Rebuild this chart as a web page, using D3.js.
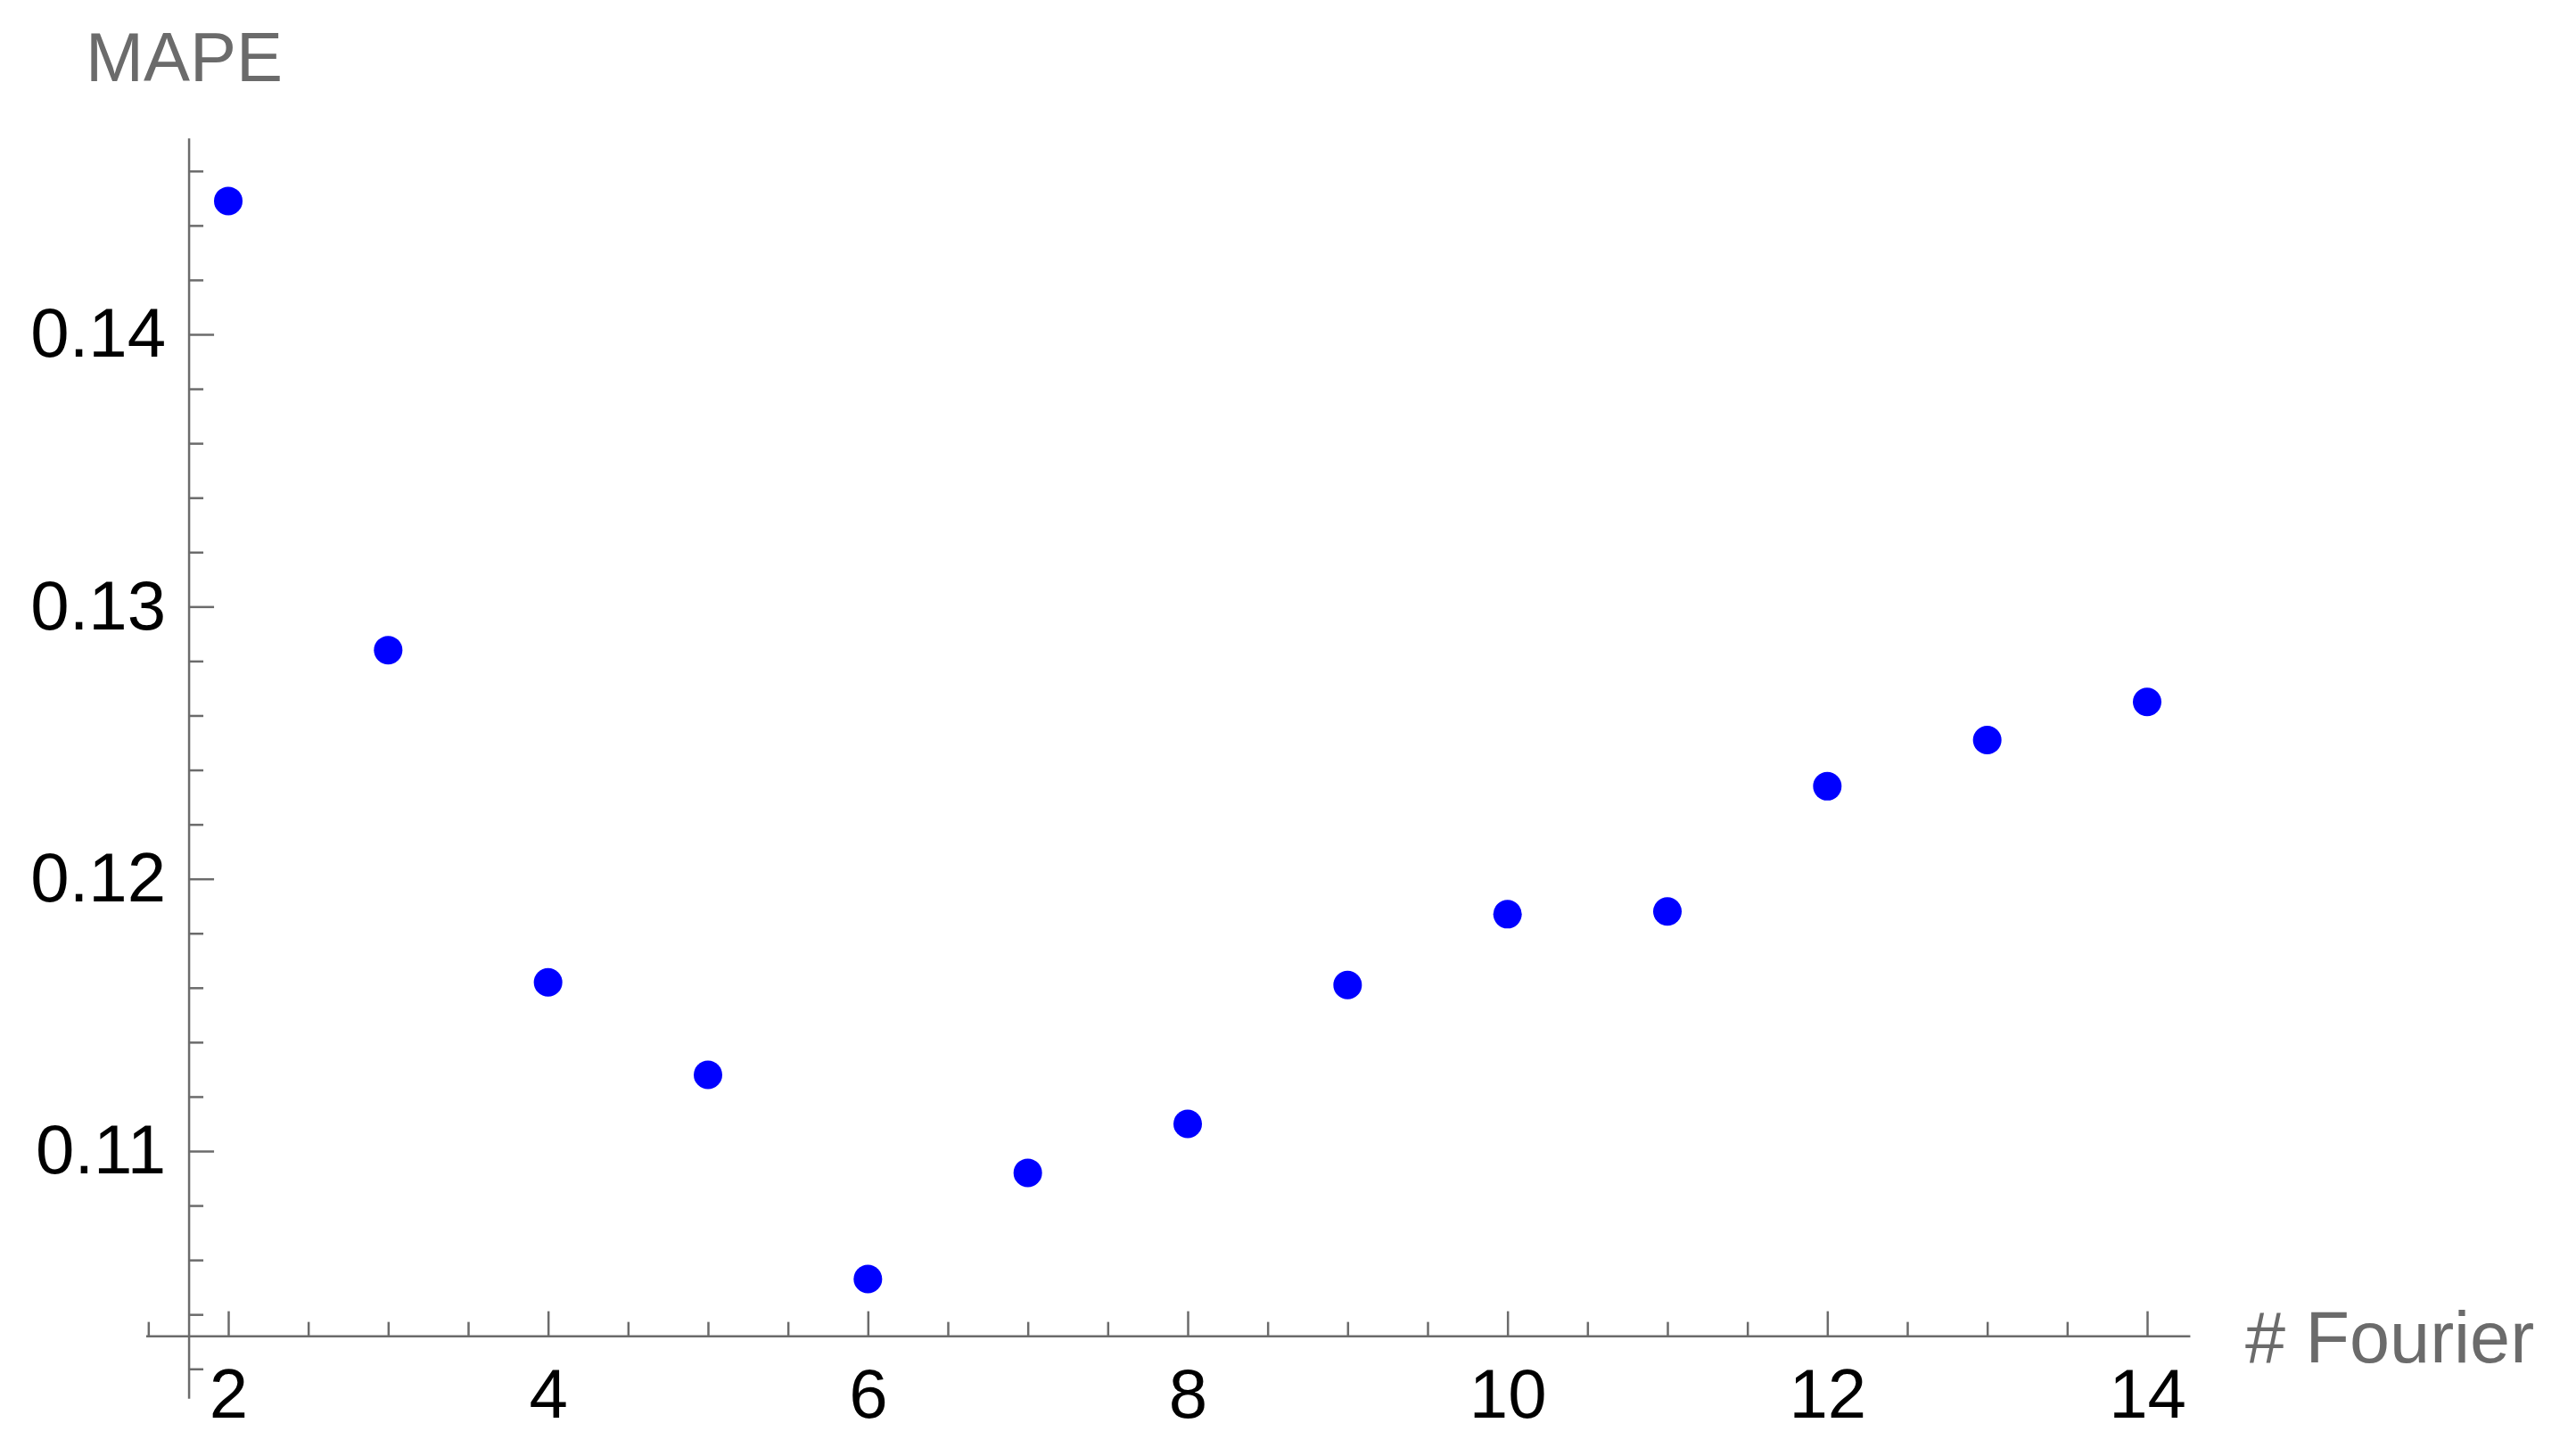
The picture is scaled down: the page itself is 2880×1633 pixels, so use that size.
<!DOCTYPE html>
<html>
<head>
<meta charset="utf-8">
<script src="https://cdn.jsdelivr.net/npm/d3@7"></script>
<style>
  body { margin: 0; background: #fff; }
  text { font-family: "Liberation Sans", Arial, sans-serif; }
</style>
</head>
<body>
<div id="chart"></div>
<script>
// data
const fourier = [2, 3, 4, 5, 6, 7, 8, 9, 10, 11, 12, 13, 14];
const mape = [0.1449, 0.1284, 0.1162, 0.1128, 0.1053, 0.1092, 0.1110,
              0.1161, 0.1187, 0.1188, 0.1234, 0.1251, 0.1265];

const xMajor = [2, 4, 6, 8, 10, 12, 14];
const xMinor = d3.range(1.5, 14, 0.5).filter(v => v % 2 !== 0);
const yMajor = [0.11, 0.12, 0.13, 0.14];
const yMinor = d3.range(51, 74).map(i => i * 0.002).filter(v => Math.abs(v * 100 - Math.round(v * 100)) > 1e-6);

const xLabel = "# Fourier";
const yLabel = "MAPE";

const data = fourier.map((f, i) => ({f: f, v: mape[i]}));

// initialization
const width = 2880, height = 1633;
const axisColor = "#6b6b6b";

const svg = d3.select("#chart")
    .append("svg")
    .attr("width", width)
    .attr("height", height);

const xScale = d3.scaleLinear().domain([2, 14]).range([256, 2408]);
const yScale = d3.scaleLinear().domain([0.14, 0.11]).range([375, 1291]);

// where the axes cross (Mathematica style)
const xCross = 1.755, yCross = 0.1032;
const xExtent = [1.487, 14.27];
const yExtent = [0.1009, 0.1472];

// x axis
const xAxisG = svg.append("g")
    .attr("transform", `translate(0, ${yScale(yCross)})`);

xAxisG.append("line")
    .attr("x1", xScale(xExtent[0]))
    .attr("x2", xScale(xExtent[1]))
    .attr("stroke", axisColor)
    .attr("stroke-width", 2.5);

xAxisG.append("g")
    .call(d3.axisBottom(xScale).tickValues(xMinor).tickSize(-16).tickFormat(""))
    .call(g => g.select(".domain").remove());

xAxisG.append("g")
    .call(d3.axisBottom(xScale).tickValues(xMajor).tickSize(-28).tickPadding(36).tickFormat(d3.format("d")))
    .call(g => g.select(".domain").remove());

// y axis
const yAxisG = svg.append("g")
    .attr("transform", `translate(${xScale(xCross)}, 0)`);

yAxisG.append("line")
    .attr("y1", yScale(yExtent[1]))
    .attr("y2", yScale(yExtent[0]))
    .attr("stroke", axisColor)
    .attr("stroke-width", 2.5);

yAxisG.append("g")
    .call(d3.axisLeft(yScale).tickValues(yMinor).tickSize(-16).tickFormat(""))
    .call(g => g.select(".domain").remove());

yAxisG.append("g")
    .call(d3.axisLeft(yScale).tickValues(yMajor).tickSize(-28).tickPadding(26).tickFormat(d3.format(".2f")))
    .call(g => g.select(".domain").remove());

svg.selectAll(".tick line")
    .attr("stroke", axisColor)
    .attr("stroke-width", 2.5);

svg.selectAll(".tick text")
    .attr("fill", "#000")
    .style("font-family", "'Liberation Sans', Arial, sans-serif")
    .style("font-size", "78px");

// axis labels
svg.append("text")
    .attr("x", 96)
    .attr("y", 91)
    .attr("fill", axisColor)
    .style("font-size", "78px")
    .text(yLabel);

svg.append("text")
    .attr("x", 2518)
    .attr("y", 1528)
    .attr("fill", axisColor)
    .style("font-size", "81px")
    .text(xLabel);

// points
svg.append("g")
    .selectAll("circle")
    .data(data)
    .enter()
    .append("circle")
    .attr("cx", d => xScale(d.f))
    .attr("cy", d => yScale(d.v))
    .attr("r", 16)
    .attr("fill", "#0000ff");
</script>
</body>
</html>
